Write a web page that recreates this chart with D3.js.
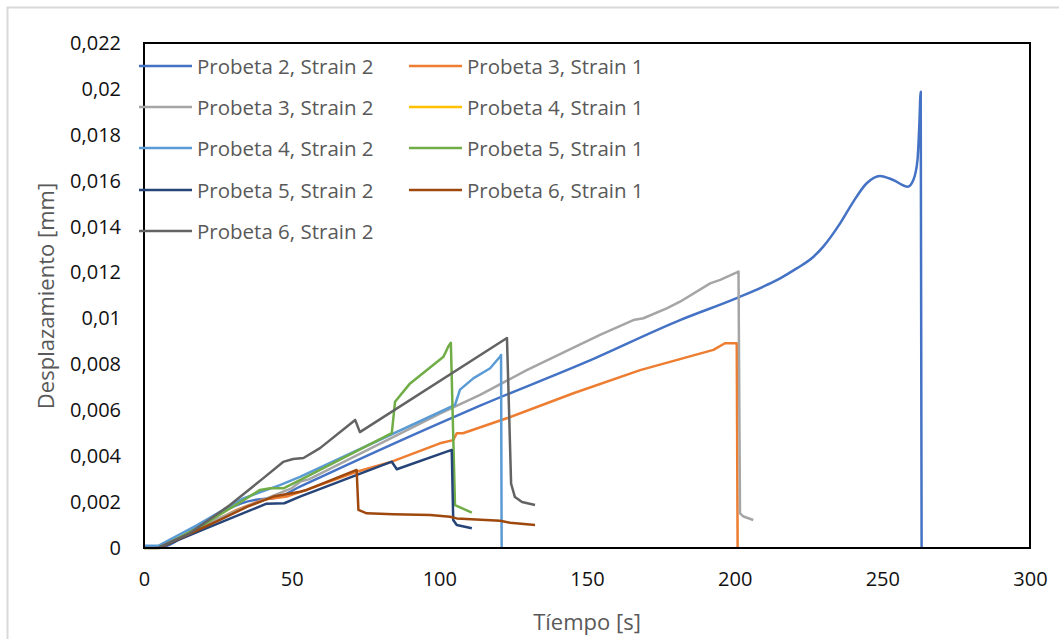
<!DOCTYPE html>
<html>
<head>
<meta charset="utf-8">
<script src="https://cdn.jsdelivr.net/npm/d3@7"></script>
<style>
  body { margin: 0; background: #fff; }
  text { font-family: "Open Sans", "Noto Sans", sans-serif; }
</style>
</head>
<body>
<script>
// series data: [time (s), displacement (mm)]
const p2s2 = [[0,0.00003],[5,0.00003],[20,0.0011],[33,0.00195],[38,0.0021],[45,0.0022],[52.8,0.00267],
  [100,0.00543],[113.8,0.0062],[150,0.00812],[181.5,0.00993],[201.3,0.01092],[210.9,0.01146],[215.4,0.01175],
  [221,0.01218],[226.7,0.01269],[230,0.01313],[235.7,0.01414],[240.2,0.01509],[244.7,0.01589],[249.2,0.01621],
  [253.7,0.01603],[258.6,0.01574],[260.5,0.01603],[261.9,0.0169],[262.5,0.01835],[263,0.01988],[263.3,0]];
const p3s1 = [[5,0],[24.6,0.00122],[31.4,0.00166],[40,0.0021],[48.3,0.00224],[55,0.00253],[72,0.00332],
  [83.9,0.00376],[100.2,0.00456],[104.7,0.0047],[105.9,0.005],[108,0.005],[122.8,0.00565],[145.4,0.00674],
  [168,0.00775],[192.8,0.00863],[196.7,0.00892],[200.7,0.00892],[201,0]];
const p3s2 = [[5,0],[20,0.001],[36,0.00187],[48,0.0025],[50,0.0026],[53,0.0029],[56,0.003],[100.2,0.00585],
  [113.8,0.00667],[129.6,0.00775],[154.4,0.00928],[165.7,0.00993],[169.1,0.01001],[177,0.01044],[181.5,0.01073],
  [191.7,0.01153],[195.1,0.01168],[201.3,0.01204],[201.8,0.00151],[203,0.00137],[206.3,0.00122]];
const p4s1 = [[0,0],[5,0]];
const p4s2 = [[0,0.0001],[5,0.0001],[18,0.001],[33.6,0.00216],[46,0.00274],[52.8,0.0031],[105.3,0.00623],
  [107,0.0069],[111.5,0.00739],[117.2,0.00783],[120.6,0.00834],[120.9,0.00841],[121.1,0]];
const p5s1 = [[5,0],[20,0.001],[39.3,0.00253],[42.7,0.0026],[47.2,0.0026],[52.8,0.00296],[83.9,0.005],
  [85,0.00637],[90.1,0.00717],[101.4,0.00833],[103,0.00877],[103.9,0.00894],[105.3,0.00187],[111,0.00154]];
const p5s2 = [[5,0],[20,0.0008],[41.5,0.00193],[47.5,0.00195],[52.8,0.00224],[83.9,0.00376],[85.6,0.00343],
  [102.5,0.0042],[104.2,0.00427],[104.7,0.00122],[105.9,0.001],[111,0.00086]];
const p6s1 = [[5,0],[25,0.00118],[35,0.0018],[43.8,0.00224],[52.8,0.00245],[55.1,0.00253],[72,0.0034],
  [72.6,0.00166],[75.4,0.00151],[84.4,0.00147],[96.9,0.00144],[103.6,0.00136],[105.9,0.00129],
  [120.6,0.00119],[124,0.0011],[132.4,0.001]];
const p6s2 = [[0,0],[4.7,0],[15,0.0006],[29.1,0.00187],[40,0.003],[47.1,0.00375],[50.5,0.00388],[54,0.00392],
  [59.6,0.00435],[71.5,0.00558],[73.1,0.00505],[122.9,0.00915],[123.6,0.006],[124.3,0.0028],
  [125.6,0.00222],[128,0.002],[132.4,0.00187]];

const seriesNames = ['Probeta 2, Strain 2', 'Probeta 3, Strain 1', 'Probeta 3, Strain 2', 'Probeta 4, Strain 1',
  'Probeta 4, Strain 2', 'Probeta 5, Strain 1', 'Probeta 5, Strain 2', 'Probeta 6, Strain 1', 'Probeta 6, Strain 2'];
const seriesData = [p2s2, p3s1, p3s2, p4s1, p4s2, p5s1, p5s2, p6s1, p6s2];
const seriesColors = ['#4472C4', '#ED7D31', '#A5A5A5', '#FFC000', '#5B9BD5', '#70AD47', '#264478', '#9E480E', '#636363'];

const xTicks = [0, 50, 100, 150, 200, 250, 300];
const yTicks = [0, 0.002, 0.004, 0.006, 0.008, 0.01, 0.012, 0.014, 0.016, 0.018, 0.02, 0.022];

const W = 1059, H = 639;
const plot = { left: 144, right: 1030, top: 43, bottom: 548 };

const svg = d3.select('body').append('svg')
    .attr('width', W)
    .attr('height', H);

// outer chart border (only left/top visible in the crop)
svg.append('rect')
    .attr('x', 7.5).attr('y', 7.5)
    .attr('width', W + 10).attr('height', H + 10)
    .attr('fill', 'white')
    .attr('stroke', '#d9d9d9')
    .attr('stroke-width', 2);

const x = d3.scaleLinear().domain([0, 300]).range([plot.left, plot.right]);
const y = d3.scaleLinear().domain([0, 0.022]).range([plot.bottom, plot.top]);

const fmt = v => String(+v.toFixed(3)).replace('.', ',');

// axes, no tick marks
const yAxis = svg.append('g')
    .attr('transform', `translate(${plot.left},0)`)
    .call(d3.axisLeft(y).tickValues(yTicks).tickFormat(fmt).tickSize(0).tickPadding(23));
const xAxis = svg.append('g')
    .attr('transform', `translate(0,${plot.bottom})`)
    .call(d3.axisBottom(x).tickValues(xTicks).tickSize(0).tickPadding(24));
[xAxis, yAxis].forEach(g => {
    g.select('.domain').remove();
    g.selectAll('text')
        .style('font-family', '"Open Sans", sans-serif')
        .style('font-size', '20px')
        .attr('fill', '#111');
});

// lines: straight segments, only the long Probeta 2 curve is smoothed
const straight = d3.line()
    .x(d => x(d[0]))
    .y(d => y(d[1]));
const smooth = d3.line()
    .x(d => x(d[0]))
    .y(d => y(d[1]))
    .curve(d3.curveMonotoneX);

svg.append('g')
    .selectAll('path')
    .data(seriesData)
    .join('path')
    .attr('d', (d, i) => i === 0 ? smooth(d) : straight(d))
    .attr('fill', 'none')
    .attr('stroke', (d, i) => seriesColors[i])
    .attr('stroke-width', 2.5)
    .attr('stroke-linejoin', 'round');

// plot frame
svg.append('rect')
    .attr('x', plot.left).attr('y', plot.top)
    .attr('width', plot.right - plot.left)
    .attr('height', plot.bottom - plot.top)
    .attr('fill', 'none')
    .attr('stroke', 'black')
    .attr('stroke-width', 2);

// axis titles
svg.append('text')
    .attr('x', (plot.left + plot.right) / 2)
    .attr('y', 621)
    .attr('text-anchor', 'middle')
    .attr('dominant-baseline', 'central')
    .attr('fill', '#595959')
    .style('font-size', '22px')
    .text('Tíempo [s]');

svg.append('text')
    .attr('transform', 'translate(45,296) rotate(-90)')
    .attr('text-anchor', 'middle')
    .attr('dominant-baseline', 'central')
    .attr('fill', '#595959')
    .style('font-size', '22px')
    .text('Desplazamiento [mm]');

// legend, two columns filled row by row
const legendCols = [139, 409];
const legendRowY = [66, 107, 148, 190, 231];
const legend = svg.append('g');
seriesNames.forEach((name, i) => {
    const lx = legendCols[i % 2];
    const ly = legendRowY[Math.floor(i / 2)];
    legend.append('line')
        .attr('x1', lx).attr('x2', lx + 53)
        .attr('y1', ly).attr('y2', ly)
        .attr('stroke', seriesColors[i])
        .attr('stroke-width', 2.5);
    legend.append('text')
        .attr('x', lx + 58)
        .attr('y', ly)
        .attr('dominant-baseline', 'central')
        .attr('fill', '#595959')
        .style('font-size', '20.5px')
        .text(name);
});
</script>
</body>
</html>
